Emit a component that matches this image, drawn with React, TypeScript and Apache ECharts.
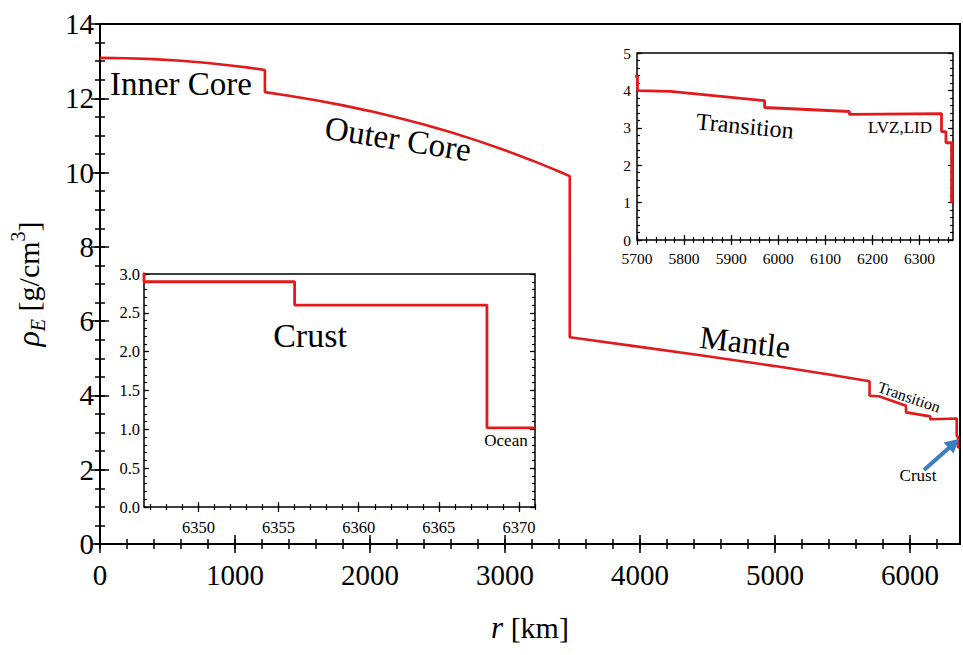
import React, { useEffect, useRef } from "react";
import * as echarts from "echarts";

// PREM density profile (radius in km, density in g/cm^3)
const radiusKm = [
  0, 200, 400, 600, 800, 1000, 1100, 1221.5,
  1221.5, 1400, 1600, 1800, 2000, 2200, 2400, 2600, 2800, 3000, 3200, 3350, 3400, 3480,
  3480, 4000, 4500, 5000, 5400, 5701,
  5701, 5771, 5971,
  5971, 6151,
  6151, 6346.6,
  6346.6, 6356,
  6356, 6368,
  6368, 6371,
];
const densityGcm3 = [
  13.0885, 13.0798, 13.0537, 13.0101, 12.9491, 12.8708, 12.825, 12.7636,
  12.1663, 12.0692, 11.9468, 11.809, 11.6548, 11.4831, 11.293, 11.0834, 10.8532, 10.6015, 10.3272, 10.1062, 10.0294, 9.9034,
  5.5665, 5.3073, 5.0547, 4.7899, 4.5631, 4.3807,
  3.9921, 3.9758, 3.7237,
  3.5433, 3.4358,
  3.3595, 3.3808,
  2.9, 2.9,
  2.6, 2.6,
  1.02, 1.02,
];
// the main panel stops before the ocean layer (it is hidden under its frame)
const mainPanelPointCount = 39;

const mainXTicks = [0, 1000, 2000, 3000, 4000, 5000, 6000];
const mainYTicks = [0, 2, 4, 6, 8, 10, 12, 14];
const inset1XTicks = [5700, 5800, 5900, 6000, 6100, 6200, 6300];
const inset1YTicks = [0, 1, 2, 3, 4, 5];
const inset2XTicks = [6350, 6355, 6360, 6365, 6370];
const inset2YTicks = [0, 0.5, 1, 1.5, 2, 2.5, 3];

const FONT = "Liberation Serif";
const RED = "#e31a1c";

function range(start: number, stop: number, step: number): number[] {
  const out: number[] = [];
  const n = Math.round((stop - start) / step);
  for (let i = 0; i <= n; i++) out.push(+(start + i * step).toFixed(6));
  return out;
}

type AxisCfg = {
  grid: number;
  min: number;
  max: number;
  majors: number[];
  minors: number[];
  majorLen: number;
  minorLen: number;
  tickWidth: number;
  fontSize: number;
  margin: number;
  formatter?: (v: number) => string;
  name?: string;
  nameGap?: number;
  nameStyle?: any;
};

function axisSet(dim: "x" | "y", c: AxisCfg) {
  const [p1, p2] = dim === "x" ? ["bottom", "top"] : ["left", "right"];
  const base = {
    type: "value",
    gridIndex: c.grid,
    min: c.min,
    max: c.max,
    splitLine: { show: false },
    axisLine: { show: false },
  };
  const tick = (vals: number[], len: number) => ({
    show: true,
    inside: true,
    length: len,
    customValues: vals,
    lineStyle: { color: "#000", width: c.tickWidth },
  });
  const noLabel = { show: false };
  const first: any = {
    ...base,
    position: p1,
    axisTick: tick(c.majors, c.majorLen),
    axisLabel: {
      show: true,
      customValues: c.majors,
      fontFamily: FONT,
      fontSize: c.fontSize,
      color: "#000",
      margin: c.margin,
      formatter: c.formatter || ((v: number) => String(v)),
    },
  };
  if (c.name) {
    first.name = c.name;
    first.nameLocation = "middle";
    first.nameGap = c.nameGap;
    first.nameTextStyle = c.nameStyle;
    if (dim === "y") first.nameRotate = 90;
  }
  return [
    first,
    { ...base, position: p1, axisTick: tick(c.minors, c.minorLen), axisLabel: noLabel },
    { ...base, position: p2, axisTick: tick(c.majors, c.majorLen), axisLabel: noLabel },
    { ...base, position: p2, axisTick: tick(c.minors, c.minorLen), axisLabel: noLabel },
  ];
}

function txt(text: string, x: number, y: number, size: number, rotDeg = 0) {
  return {
    type: "text",
    x,
    y,
    rotation: (rotDeg * Math.PI) / 180,
    z: 100,
    style: {
      text,
      fill: "#000",
      fontFamily: FONT,
      fontSize: size,
      align: "center",
      verticalAlign: "middle",
    },
  };
}

export default function App() {
  const ref = useRef<HTMLDivElement>(null);
  useEffect(() => {
    if (!ref.current) return;
    const chart = echarts.init(ref.current, undefined, { renderer: "svg" });
    const points = radiusKm.map((r, i) => [r, densityGcm3[i]]);
    const mainPoints = points.slice(0, mainPanelPointCount);

    const nameBase = { fontFamily: FONT, fontSize: 30, color: "#000" };
    const xAxes = [
      ...axisSet("x", {
        grid: 0, min: 0, max: 6371, majors: mainXTicks, minors: range(0, 6200, 200),
        majorLen: 9, minorLen: 5, tickWidth: 1.5, fontSize: 29, margin: 16,
        name: "{i|r} [km]", nameGap: 68,
        nameStyle: { ...nameBase, rich: { i: { fontStyle: "italic", fontFamily: FONT, fontSize: 31 } } },
      }),
      ...axisSet("x", {
        grid: 1, min: 5700, max: 6371, majors: inset1XTicks, minors: range(5700, 6360, 20),
        majorLen: 5, minorLen: 3, tickWidth: 1.2, fontSize: 15.5, margin: 10,
      }),
      ...axisSet("x", {
        grid: 2, min: 6346.6, max: 6371, majors: inset2XTicks, minors: range(6347, 6371, 1),
        majorLen: 5, minorLen: 3, tickWidth: 1.2, fontSize: 16.5, margin: 12,
      }),
    ];
    const yAxes = [
      ...axisSet("y", {
        grid: 0, min: 0, max: 14, majors: mainYTicks, minors: range(0, 14, 0.5),
        majorLen: 9, minorLen: 5, tickWidth: 1.5, fontSize: 29, margin: 6,
        name: "{rho|ρ}{sub|E} [g/cm{sup|3}]", nameGap: 52,
        nameStyle: {
          ...nameBase,
          lineHeight: 40,
          rich: {
            rho: { fontStyle: "italic", fontFamily: FONT, fontSize: 32, lineHeight: 40 },
            sub: { fontStyle: "italic", fontFamily: FONT, fontSize: 20, verticalAlign: "bottom", lineHeight: 22 },
            sup: { fontFamily: FONT, fontSize: 20, verticalAlign: "top", lineHeight: 22 },
          },
        },
      }),
      ...axisSet("y", {
        grid: 1, min: 0, max: 5, majors: inset1YTicks, minors: range(0, 5, 0.2),
        majorLen: 5, minorLen: 3, tickWidth: 1.2, fontSize: 15.5, margin: 6,
      }),
      ...axisSet("y", {
        grid: 2, min: 0, max: 3, majors: inset2YTicks, minors: range(0, 3, 0.1),
        majorLen: 5, minorLen: 3, tickWidth: 1.2, fontSize: 16.5, margin: 4,
        formatter: (v: number) => v.toFixed(1),
      }),
    ];

    const option: any = {
      animation: false,
      backgroundColor: "#fff",
      textStyle: { fontFamily: FONT },
      grid: [
        { left: 93, top: 24, width: 867, height: 520, show: true, borderColor: "#000", borderWidth: 2, backgroundColor: "transparent" },
        { left: 637, top: 53, width: 316, height: 187, show: true, borderColor: "#000", borderWidth: 1.5, backgroundColor: "#fff" },
        { left: 144, top: 274, width: 391, height: 233, show: true, borderColor: "#000", borderWidth: 1.5, backgroundColor: "#fff" },
      ],
      xAxis: xAxes,
      yAxis: yAxes,
      series: [
        { type: "line", xAxisIndex: 0, yAxisIndex: 0, data: mainPoints, showSymbol: false, clip: true, lineStyle: { color: RED, width: 2.6 }, itemStyle: { color: RED } },
        { type: "line", xAxisIndex: 4, yAxisIndex: 4, data: points, showSymbol: false, clip: true, lineStyle: { color: RED, width: 2.8 }, itemStyle: { color: RED } },
        { type: "line", xAxisIndex: 8, yAxisIndex: 8, data: points, showSymbol: false, clip: true, lineStyle: { color: RED, width: 2.8 }, itemStyle: { color: RED } },
      ],
      graphic: [
        txt("Inner Core", 181, 84, 33),
        txt("Outer Core", 398, 139, 33, -9),
        txt("Mantle", 745, 342, 32, -6.5),
        txt("Transition", 909, 397, 16, -19),
        txt("Crust", 918, 475, 17),
        txt("Transition", 745, 126, 24, -5.5),
        txt("LVZ,LID", 900, 127, 17),
        txt("Crust", 310, 335, 34),
        txt("Ocean", 506, 440, 17),
        {
          type: "line",
          z: 100,
          shape: { x1: 924, y1: 470, x2: 950, y2: 447 },
          style: { stroke: "#3a7fc0", lineWidth: 4 },
        },
        {
          type: "polygon",
          z: 100,
          shape: { points: [[959, 439], [943.5, 442.5], [953.5, 453.5]] },
          style: { fill: "#3a7fc0" },
        },
      ],
    };
    chart.setOption(option);
    return () => chart.dispose();
  }, []);
  return (
    <div
      ref={ref}
      style={{ position: "fixed", left: 0, top: 0, width: 963, height: 655 }}
    />
  );
}
